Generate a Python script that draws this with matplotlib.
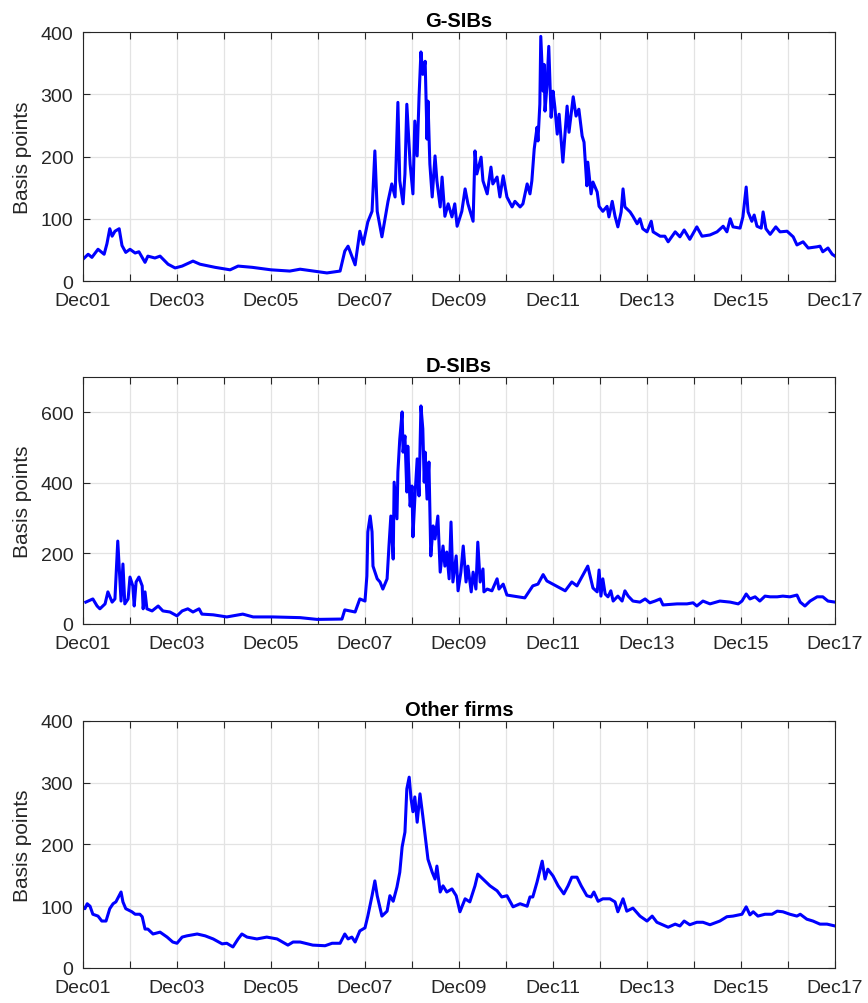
import matplotlib
matplotlib.use("Agg")
import matplotlib.pyplot as plt
import numpy as np

plt.rcParams['font.family'] = ['Liberation Sans', 'DejaVu Sans']

# time axis: years after Dec 2001
gsib_t = [0.00, 0.11, 0.19, 0.32, 0.45, 0.51, 0.57, 0.62, 0.68, 0.77, 0.83, 0.91,
          1.00, 1.11, 1.19, 1.32, 1.38, 1.53, 1.64, 1.81, 1.96, 2.11, 2.34, 2.49,
          2.81, 3.13, 3.30, 3.60, 4.00, 4.40, 4.62, 5.19, 5.47, 5.57, 5.64, 5.72,
          5.79, 5.89, 5.96, 6.06, 6.15, 6.21, 6.26, 6.36, 6.49, 6.57, 6.64, 6.70,
          6.74, 6.81, 6.85, 6.89, 6.96, 7.02, 7.06, 7.11, 7.15, 7.19, 7.23, 7.28,
          7.32, 7.34, 7.38, 7.43, 7.49, 7.53, 7.60, 7.64, 7.70, 7.77, 7.85, 7.91,
          7.96, 8.06, 8.13, 8.19, 8.30, 8.34, 8.38, 8.47, 8.51, 8.60, 8.68, 8.72,
          8.81, 8.87, 8.94, 9.02, 9.13, 9.19, 9.30, 9.36, 9.45, 9.51, 9.55, 9.60,
          9.66, 9.68, 9.72, 9.74, 9.79, 9.81, 9.83, 9.87, 9.91, 9.96, 10.00, 10.04,
          10.09, 10.13, 10.21, 10.30, 10.34, 10.43, 10.49, 10.55, 10.62, 10.66, 10.72, 10.74,
          10.81, 10.85, 10.94, 10.98, 11.06, 11.15, 11.19, 11.26, 11.32, 11.38, 11.45, 11.49,
          11.53, 11.64, 11.70, 11.79, 11.85, 11.91, 12.00, 12.09, 12.13, 12.28, 12.38, 12.45,
          12.60, 12.70, 12.79, 12.91, 13.06, 13.17, 13.34, 13.49, 13.62, 13.70, 13.77, 13.83,
          13.98, 14.04, 14.11, 14.15, 14.23, 14.28, 14.34, 14.43, 14.47, 14.53, 14.62, 14.74,
          14.83, 14.98, 15.11, 15.19, 15.32, 15.43, 15.62, 15.68, 15.74, 15.85, 15.94, 16.00]
gsib_v = [35, 43, 38, 51, 43, 60, 84, 72, 80, 84, 57, 46,
          51, 45, 47, 30, 40, 37, 40, 27, 21, 24, 32, 27,
          22, 18, 24, 22, 18, 16, 19, 13, 16, 48, 56, 40,
          26, 80, 59, 95, 112, 209, 112, 71, 128, 156, 135, 287,
          161, 124, 172, 284, 188, 140, 257, 201, 296, 368, 332, 353,
          228, 289, 188, 135, 201, 161, 119, 167, 104, 124, 103, 124,
          88, 112, 148, 124, 96, 209, 172, 199, 161, 140, 183, 156,
          167, 135, 169, 135, 119, 128, 119, 124, 156, 140, 161, 212,
          247, 225, 284, 393, 305, 348, 273, 312, 377, 263, 305, 279,
          236, 268, 191, 281, 239, 296, 265, 276, 233, 223, 153, 191,
          140, 159, 143, 120, 112, 120, 103, 128, 104, 87, 111, 148,
          119, 111, 104, 92, 100, 84, 79, 96, 79, 72, 72, 63,
          79, 71, 82, 67, 87, 72, 74, 79, 88, 79, 100, 87,
          85, 103, 151, 111, 96, 106, 88, 85, 111, 84, 75, 87,
          79, 80, 71, 58, 63, 53, 55, 56, 47, 53, 43, 40]

dsib_t = [0.06, 0.21, 0.30, 0.36, 0.47, 0.53, 0.62, 0.68, 0.74, 0.81, 0.85, 0.89,
          0.96, 1.00, 1.06, 1.09, 1.13, 1.19, 1.26, 1.28, 1.32, 1.36, 1.47, 1.60,
          1.70, 1.85, 2.00, 2.11, 2.23, 2.34, 2.47, 2.53, 2.77, 3.06, 3.40, 3.62,
          4.04, 4.62, 4.98, 5.51, 5.57, 5.68, 5.79, 5.89, 6.00, 6.04, 6.06, 6.11,
          6.15, 6.17, 6.26, 6.32, 6.38, 6.47, 6.51, 6.55, 6.60, 6.62, 6.68, 6.70,
          6.74, 6.79, 6.81, 6.85, 6.89, 6.91, 6.96, 7.00, 7.02, 7.06, 7.11, 7.15,
          7.19, 7.23, 7.26, 7.28, 7.32, 7.36, 7.40, 7.45, 7.49, 7.55, 7.60, 7.66,
          7.70, 7.74, 7.79, 7.83, 7.87, 7.94, 7.98, 8.04, 8.09, 8.15, 8.19, 8.26,
          8.30, 8.36, 8.40, 8.45, 8.51, 8.53, 8.60, 8.70, 8.81, 8.85, 8.94, 9.02,
          9.40, 9.57, 9.68, 9.79, 9.87, 10.26, 10.40, 10.51, 10.74, 10.85, 10.94, 10.98,
          11.02, 11.06, 11.11, 11.17, 11.23, 11.28, 11.38, 11.47, 11.53, 11.60, 11.70, 11.85,
          11.96, 12.06, 12.17, 12.28, 12.34, 12.64, 12.85, 12.98, 13.06, 13.19, 13.34, 13.55,
          13.77, 13.94, 14.02, 14.11, 14.19, 14.30, 14.40, 14.51, 14.62, 14.77, 14.89, 15.04,
          15.19, 15.26, 15.36, 15.47, 15.62, 15.74, 15.85, 16.00]
dsib_v = [62, 71, 51, 43, 57, 91, 62, 71, 235, 65, 170, 57,
          71, 133, 108, 51, 119, 133, 108, 43, 91, 43, 37, 51,
          37, 34, 23, 37, 43, 34, 43, 28, 26, 20, 28, 20,
          20, 18, 13, 14, 40, 37, 34, 71, 65, 136, 261, 306,
          261, 164, 128, 119, 99, 128, 221, 306, 184, 402, 298, 431,
          524, 601, 487, 533, 374, 504, 334, 391, 247, 354, 468, 363,
          618, 553, 402, 487, 354, 459, 193, 278, 241, 306, 147, 221,
          164, 204, 128, 289, 119, 193, 94, 147, 221, 119, 164, 91,
          147, 99, 232, 119, 156, 91, 99, 94, 128, 99, 113, 82,
          74, 108, 113, 140, 122, 94, 119, 108, 164, 102, 91, 153,
          79, 128, 85, 77, 94, 65, 79, 65, 94, 79, 65, 62,
          71, 60, 65, 71, 54, 57, 57, 60, 51, 65, 57, 65,
          62, 57, 65, 85, 71, 77, 65, 79, 77, 77, 79, 77,
          82, 62, 51, 65, 77, 77, 65, 62]

other_t = [0.00, 0.04, 0.09, 0.15, 0.21, 0.32, 0.40, 0.49, 0.57, 0.64, 0.70, 0.77,
           0.81, 0.85, 0.91, 1.04, 1.11, 1.21, 1.26, 1.32, 1.38, 1.49, 1.64, 1.79,
           1.91, 2.00, 2.11, 2.21, 2.43, 2.60, 2.77, 2.96, 3.06, 3.19, 3.30, 3.38,
           3.49, 3.70, 3.91, 4.13, 4.36, 4.47, 4.62, 4.89, 5.15, 5.30, 5.47, 5.57,
           5.64, 5.72, 5.79, 5.89, 6.00, 6.06, 6.15, 6.21, 6.26, 6.36, 6.47, 6.53,
           6.60, 6.68, 6.74, 6.79, 6.85, 6.89, 6.94, 6.98, 7.02, 7.06, 7.11, 7.17,
           7.23, 7.28, 7.34, 7.43, 7.49, 7.53, 7.60, 7.66, 7.74, 7.85, 7.94, 8.02,
           8.13, 8.23, 8.34, 8.40, 8.51, 8.66, 8.81, 8.91, 9.02, 9.15, 9.30, 9.45,
           9.51, 9.57, 9.66, 9.77, 9.83, 9.89, 10.00, 10.11, 10.23, 10.32, 10.40, 10.51,
           10.60, 10.72, 10.81, 10.87, 10.96, 11.06, 11.21, 11.32, 11.38, 11.49, 11.57, 11.70,
           11.85, 12.00, 12.11, 12.21, 12.45, 12.60, 12.70, 12.79, 12.91, 13.06, 13.19, 13.34,
           13.55, 13.70, 13.83, 14.02, 14.11, 14.19, 14.26, 14.36, 14.51, 14.66, 14.77, 14.89,
           15.04, 15.19, 15.26, 15.40, 15.53, 15.68, 15.83, 16.00]
other_v = [99, 96, 104, 100, 87, 84, 76, 76, 96, 104, 107, 117,
           123, 107, 96, 91, 87, 87, 83, 63, 63, 55, 58, 50,
           42, 40, 50, 52, 55, 52, 47, 39, 40, 34, 47, 55,
           50, 47, 50, 47, 37, 42, 42, 37, 36, 40, 40, 55,
           47, 50, 42, 60, 65, 84, 117, 141, 117, 84, 92, 117,
           108, 131, 155, 196, 220, 290, 309, 274, 253, 277, 236, 282,
           246, 214, 176, 155, 144, 165, 123, 133, 123, 128, 117, 91,
           112, 107, 133, 152, 144, 133, 125, 115, 117, 99, 104, 100,
           115, 115, 139, 173, 144, 160, 149, 133, 120, 133, 147, 147,
           133, 117, 115, 123, 108, 112, 112, 107, 91, 112, 92, 97,
           84, 76, 84, 74, 66, 71, 68, 76, 70, 74, 74, 70,
           76, 83, 84, 87, 99, 86, 91, 84, 87, 87, 92, 91,
           87, 84, 87, 79, 76, 71, 71, 68]

titles = ["G-SIBs", "D-SIBs", "Other firms"]
y_limits = [400, 700, 400]
y_ticks = [[0, 100, 200, 300, 400], [0, 200, 400, 600], [0, 100, 200, 300, 400]]
x_ticks = list(range(17))
x_labels = ["Dec%02d" % (1 + k) if k % 2 == 0 else "" for k in x_ticks]

series = [(gsib_t, gsib_v), (dsib_t, dsib_v), (other_t, other_v)]
boxes = [[0.0956, 0.7191, 0.8664, 0.2480],
         [0.0956, 0.3775, 0.8664, 0.2460],
         [0.0956, 0.0349, 0.8664, 0.2460]]

fig = plt.figure(figsize=(8.68, 10.04), dpi=100)
axis_col = '#262626'
for (t, v), title, ymax, yt, box in zip(series, titles, y_limits, y_ticks, boxes):
    ax = fig.add_axes(box)
    ax.plot(t, v, color='#0000ff', lw=2.2)
    ax.set_xlim(0, 16)
    ax.set_ylim(0, ymax)
    ax.set_xticks(x_ticks)
    ax.set_xticklabels(x_labels)
    ax.set_yticks(yt)
    ax.grid(True, color='#e3e3e3', lw=0.9)
    ax.set_axisbelow(True)
    ax.tick_params(direction='in', length=5, width=0.8, colors=axis_col,
                   labelsize=14, top=True, right=True)
    ax.tick_params(axis='x', pad=8)
    ax.tick_params(axis='y', pad=7)
    for s in ax.spines.values():
        s.set_color(axis_col)
        s.set_linewidth(0.8)
    ax.set_title(title, fontsize=14.5, fontweight='bold', pad=4)
    ax.set_ylabel("Basis points", fontsize=15, color=axis_col)
    ax.yaxis.set_label_coords(-0.068, 0.5)

fig.savefig("out.png", dpi=100)
